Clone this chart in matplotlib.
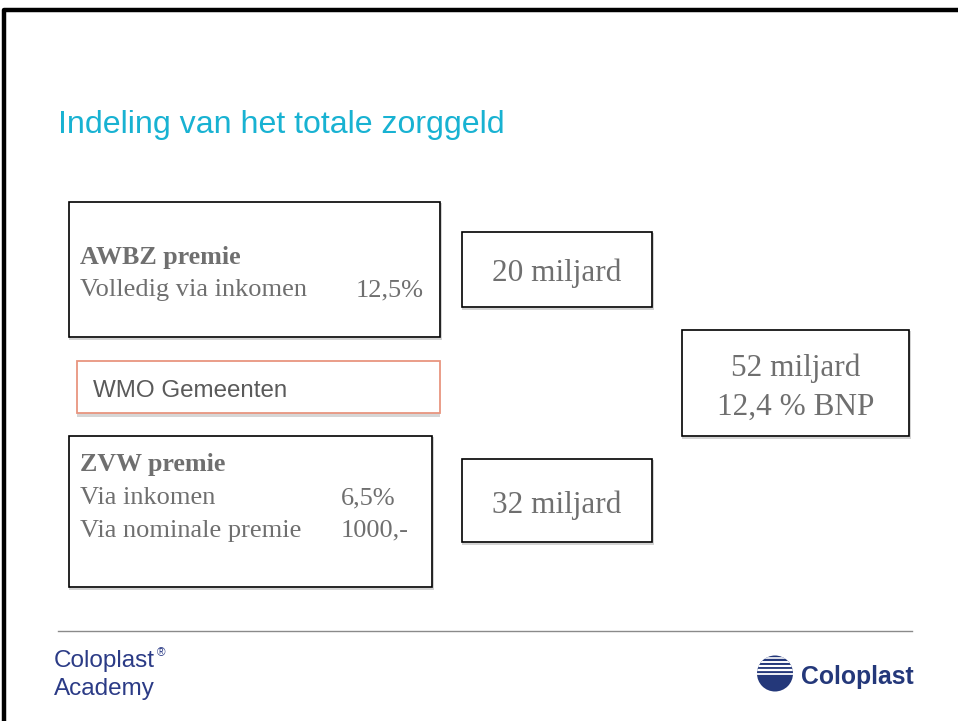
import matplotlib
matplotlib.use("Agg")
import matplotlib.pyplot as plt
from matplotlib.patches import Rectangle, Circle

# Tekst van de dia
titel = "Indeling van het totale zorggeld"
premies = ["AWBZ premie", "ZVW premie"]
awbz_regels = ["Volledig via inkomen"]
awbz_waarden = ["12,5%"]
zvw_regels = ["Via inkomen", "Via nominale premie"]
zvw_waarden = ["6,5%", "1000,-"]
wmo = "WMO Gemeenten"
bedragen = ["20 miljard", "32 miljard"]
totaal = ["52 miljard", "12,4 % BNP"]
academy = ["Coloplast", "Academy"]
logo_naam = "Coloplast"

grijs = "#6f6f6f"
blauw = "#2b3b86"
serif = "Liberation Serif"
sans = "Liberation Sans"

fig = plt.figure(figsize=(9.58, 7.21), dpi=100)
ax = fig.add_axes([0, 0, 1, 1])
ax.set_xlim(0, 958)
ax.set_ylim(721, 0)
ax.axis("off")

# Rand van de dia
ax.plot([4.5, 4.5, 960], [721, 9.5, 9.5], color="black", lw=3.2, solid_capstyle="butt")

# Titel
ax.text(58, 133, titel, color="#18b2d2", fontsize=23.1, family=sans, va="baseline")

# Functie voor een kader met schaduw
def kader(x0, y0, x1, y1, kleur="black", schaduw="#d2d2d2"):
    ax.add_patch(Rectangle((x0 + 1.5, y0 + 1.5), x1 - x0, y1 - y0, fill=False,
                           edgecolor=schaduw, lw=1.4))
    ax.add_patch(Rectangle((x0, y0), x1 - x0, y1 - y0, facecolor="white",
                           edgecolor=kleur, lw=1.2))

# AWBZ kader
kader(69, 202, 440, 337)
ax.text(80, 264, premies[0], color=grijs, fontsize=18.7, family=serif,
        weight="bold", va="baseline")
for i, (r, w) in enumerate(zip(awbz_regels, awbz_waarden)):
    ax.text(80, 296 + i * 33, r, color=grijs, fontsize=19, family=serif, va="baseline")
    ax.text(356, 296 + i * 33, w, color=grijs, fontsize=19, family=serif, va="baseline")

# WMO kader
ax.add_patch(Rectangle((77, 413), 363, 4, facecolor="#d6d6d6", edgecolor="none"))
ax.add_patch(Rectangle((77, 361), 363, 52, facecolor="white", edgecolor="#e8957f", lw=1.3))
ax.text(93, 397, wmo, color="#5a5a5a", fontsize=17.4, family=sans, va="baseline")

# ZVW kader
kader(69, 436, 432, 587)
ax.text(80, 471, premies[1], color=grijs, fontsize=18.7, family=serif,
        weight="bold", va="baseline")
for i, (r, w) in enumerate(zip(zvw_regels, zvw_waarden)):
    ax.text(80, 504 + i * 32.5, r, color=grijs, fontsize=19, family=serif, va="baseline")
    ax.text(341, 504 + i * 32.5, w, color=grijs, fontsize=19, family=serif, va="baseline")

# Bedragen
kader(462, 232, 652, 307)
ax.text(557, 281, bedragen[0], color=grijs, fontsize=22.5, family=serif,
        ha="center", va="baseline")
kader(462, 459, 652, 542)
ax.text(557, 513, bedragen[1], color=grijs, fontsize=22.5, family=serif,
        ha="center", va="baseline")

# Totaal
kader(682, 330, 909, 436)
ax.text(796, 376, totaal[0], color=grijs, fontsize=22.5, family=serif,
        ha="center", va="baseline")
ax.text(796, 415, totaal[1], color=grijs, fontsize=22.5, family=serif,
        ha="center", va="baseline")

# Voettekst
ax.plot([58, 912], [630.5, 630.5], color="#8a8a8a", lw=1.0)
ax.text(54, 667, academy[0], color=blauw, fontsize=17.5, family=sans, va="baseline")
ax.text(157, 656, "®", color=blauw, fontsize=8.5, family=sans, va="baseline")
ax.text(54, 695, academy[1], color=blauw, fontsize=17.5, family=sans, va="baseline")

# Logo
cirkel = Circle((775, 673.5), 18, facecolor="#24387a", edgecolor="none")
ax.add_patch(cirkel)
for yy, dikte in zip([658, 662, 666, 670, 673.5], [1.2, 1.4, 1.5, 1.6, 1.3]):
    l, = ax.plot([750, 800], [yy, yy], color="white", lw=dikte)
    l.set_clip_path(cirkel)
ax.text(801, 684, logo_naam, color="#24387a", fontsize=17.8, family=sans,
        weight="bold", va="baseline")

fig.savefig("out.png", dpi=100, facecolor="white")
